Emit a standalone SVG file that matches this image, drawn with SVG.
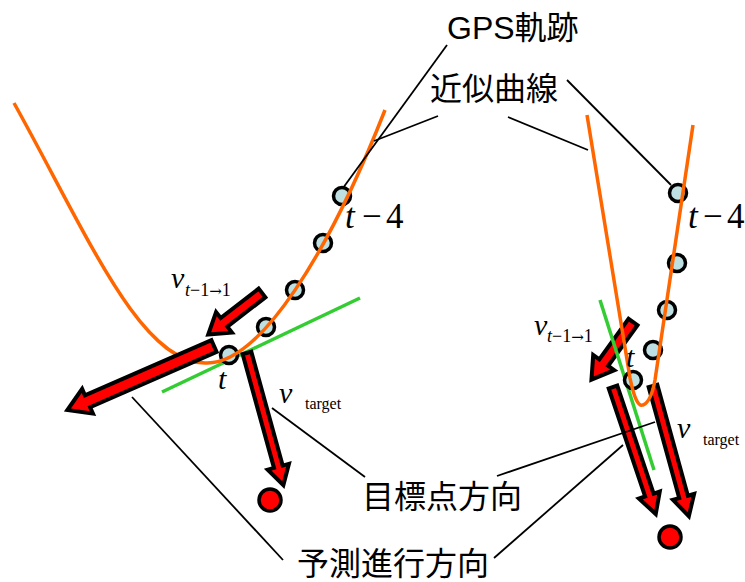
<svg xmlns="http://www.w3.org/2000/svg" width="745" height="582" viewBox="0 0 745 582">
<style>
.cjk{font-family:"Liberation Sans","Noto Sans CJK JP",sans-serif;font-size:32px;fill:#000}
.m{font-family:"Liberation Serif",serif;fill:#000}
.i{font-style:italic}
.ar{font-family:"DejaVu Serif",serif}
.curve{fill:none;stroke:#ff6600;stroke-width:3.5;stroke-linecap:butt}
.tan{fill:none;stroke:#33cc33;stroke-width:3.5}
.pt{fill:#bfe0e2;stroke:#000;stroke-width:3.5}
.arr{fill:#ff0000;stroke:#000;stroke-width:4;stroke-linejoin:miter;stroke-miterlimit:10}
.dot{fill:#ff0000;stroke:#000;stroke-width:3.5}
.lead{fill:none;stroke:#000;stroke-width:1.8}
</style>
<rect width="745" height="582" fill="#fff"/>
<g id="left-panel">
<line class="tan" x1="162" y1="392" x2="360" y2="298"/>
<g id="left-points">
<circle class="pt" cx="342" cy="196" r="8.5"/>
<circle class="pt" cx="323" cy="243" r="8.5"/>
<circle class="pt" cx="295" cy="290" r="8.5"/>
<circle class="pt" cx="266" cy="327" r="8.5"/>
<circle class="pt" cx="229" cy="355" r="8.5"/>
</g>
<path class="curve" d="M14,103 C90,240 140,362 205,363 C260,366 330,250 385,110"/>
<g id="left-arrow-pred"><polygon class="arr" transform="translate(214,346) rotate(156.4)" points="0,-6.5 138,-6.5 138,-13.5 160,0 138,13.5 138,6.5 0,6.5"/></g>
<g id="left-arrow-prev"><polygon class="arr" transform="translate(262,293) rotate(142.3)" points="0,-5.5 48,-5.5 48,-13 68,0 48,13 48,5.5 0,5.5"/></g>
<g id="left-arrow-target"><polygon class="arr" transform="translate(247,353) rotate(74.6)" points="0,-4.5 118,-4.5 118,-11 137,0 118,11 118,4.5 0,4.5"/></g>
<circle id="left-target" class="dot" cx="270" cy="500" r="11"/>
<text class="m i" x="345" y="228" font-size="35">t<tspan font-style="normal" x="362">−</tspan><tspan font-style="normal" x="386">4</tspan></text>
<text class="m i" x="218" y="389" font-size="30">t</text>
<text class="m i" x="171" y="288" font-size="30">v</text>
<text class="m" x="185" y="296" font-size="18"><tspan font-style="italic">t</tspan>−1<tspan class="ar" font-size="15">→</tspan>1</text>
<text class="m i" x="279" y="403" font-size="30">v</text>
<text class="m" x="305" y="409" font-size="16">target</text>
</g>
<g id="right-panel">
<g id="right-arrow-prev"><polygon class="arr" transform="translate(633,322) rotate(125.8)" points="0,-5.5 50,-5.5 50,-13 71,0 50,13 50,5.5 0,5.5"/></g>
<g id="right-arrow-pred"><polygon class="arr" transform="translate(613,387) rotate(71.4)" points="0,-4.5 114,-4.5 114,-11 134,0 114,11 114,4.5 0,4.5"/></g>
<g id="right-arrow-target"><polygon class="arr" transform="translate(653,386) rotate(74.6)" points="0,-4.5 115,-4.5 115,-11 135,0 115,11 115,4.5 0,4.5"/></g>
<line class="tan" x1="600" y1="300" x2="654" y2="470"/>
<g id="right-points">
<circle class="pt" cx="678" cy="193" r="8.5"/>
<circle class="pt" cx="677" cy="263" r="8.5"/>
<circle class="pt" cx="667" cy="310" r="8.5"/>
<circle class="pt" cx="653" cy="350" r="8.5"/>
<circle class="pt" cx="633" cy="380" r="8.5"/>
</g>
<path class="curve" d="M587,115 L630,378 Q636,408 643,405 Q651,402 655,380 L693,125"/>
<circle id="right-target" class="dot" cx="670" cy="537" r="11"/>
<text class="m i" x="688" y="228" font-size="35">t<tspan font-style="normal" x="703">−</tspan><tspan font-style="normal" x="727">4</tspan></text>
<text class="m i" x="626" y="367" font-size="30">t</text>
<text class="m i" x="534" y="335" font-size="30">v</text>
<text class="m" x="547" y="342" font-size="18"><tspan font-style="italic">t</tspan>−1<tspan class="ar" font-size="15">→</tspan>1</text>
<text class="m i" x="677" y="438" font-size="30">v</text>
<text class="m" x="703" y="445" font-size="16">target</text>
</g>
<g id="connectors">
<line class="lead" x1="447" y1="45" x2="343" y2="188"/>
<line class="lead" x1="567" y1="80" x2="671" y2="185"/>
<line class="lead" x1="438" y1="116" x2="374" y2="141"/>
<line class="lead" x1="508" y1="117" x2="588" y2="150"/>
<line class="lead" x1="272" y1="408" x2="365" y2="477"/>
<line class="lead" x1="497" y1="476" x2="655" y2="422"/>
<line class="lead" x1="132" y1="397" x2="283" y2="560"/>
<line class="lead" x1="494" y1="558" x2="623" y2="445"/>
</g>
<g id="labels">
<text class="cjk" x="447" y="39">GPS軌跡</text>
<text class="cjk" x="430" y="100">近似曲線</text>
<text class="cjk" x="362" y="508">目標点方向</text>
<text class="cjk" x="297" y="575">予測進行方向</text>
</g>
</svg>
